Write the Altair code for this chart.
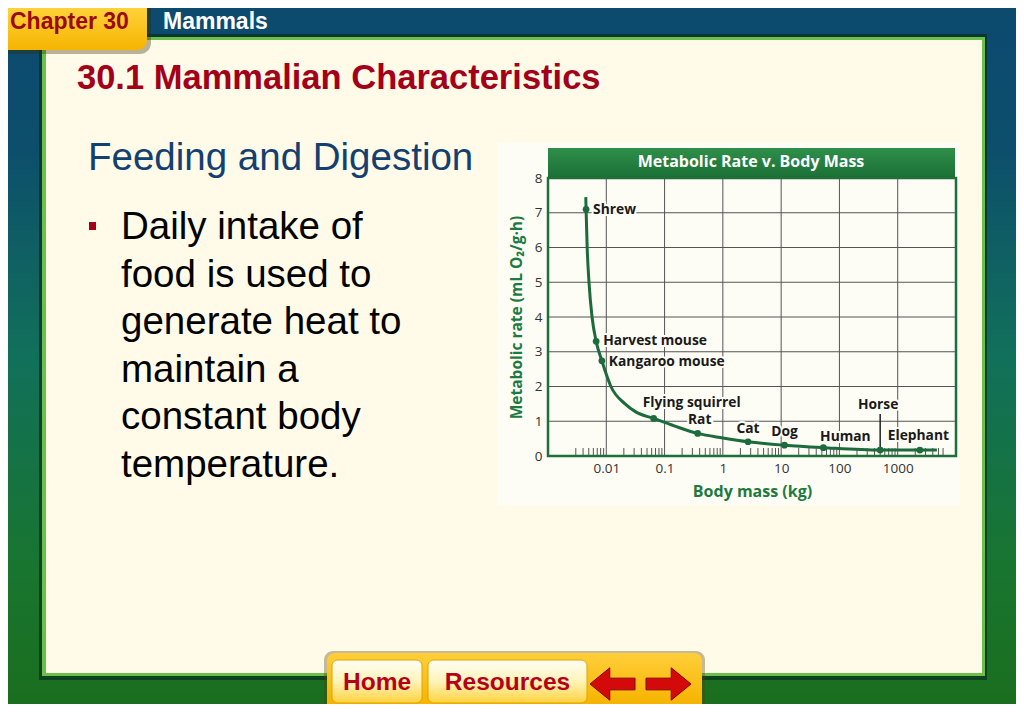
import altair as alt
import pandas as pd

# ---------------- chart data ----------------
animals = ["Shrew", "Harvest mouse", "Kangaroo mouse", "Flying squirrel", "Rat",
           "Cat", "Dog", "Human", "Horse", "Elephant"]
mass_kg = [0.0045, 0.0067, 0.0084, 0.065, 0.37, 2.7, 11.4, 53, 500, 2400]
rate = [7.1, 3.3, 2.74, 1.08, 0.65, 0.41, 0.31, 0.24, 0.17, 0.17]

curve_mass = [0.00445, 0.0045, 0.0047, 0.00505, 0.0057, 0.0067, 0.0084, 0.012,
              0.021, 0.032, 0.065, 0.15, 0.37, 1.0, 2.7, 11.4, 53, 500, 2400, 4700]
curve_rate = [7.45, 7.1, 6.0, 5.0, 4.0, 3.3, 2.74, 2.0,
              1.5, 1.27, 1.08, 0.86, 0.65, 0.52, 0.41, 0.31, 0.24, 0.17, 0.17, 0.17]

x_tick_values = [0.01, 0.1, 1, 10, 100, 1000]
y_tick_values = [0, 1, 2, 3, 4, 5, 6, 7, 8]
y_grid_values = [1, 2, 3, 4, 5, 6, 7]
minor_tick_values = ([m * 0.001 for m in range(3, 10)] +
                     [m * d for d in (0.01, 0.1, 1, 10, 100) for m in range(2, 10)] +
                     [m * 1000 for m in range(2, 7)])

horse_leader_top = 1.21

# ---------------- label styling (offsets in px) ----------------
label_style = {
    "Shrew": (7, 4.7, "left"),
    "Harvest mouse": (7, 3.7, "left"),
    "Kangaroo mouse": (7, 5, "left"),
    "Flying squirrel": (38, -11.8, "center"),
    "Rat": (2, -9, "center"),
    "Cat": (0, -8.5, "center"),
    "Dog": (0, -9, "center"),
    "Human": (22, -7, "center"),
    "Horse": (-2, -40.7, "center"),
    "Elephant": (-1.5, -10, "center"),
}

# ---------------- layout ----------------
OX, OY = 548, 178          # page position of the plot origin
W, H = 408, 278            # plot area
SLIDE_FONT = "Liberation Sans"
CHART_FONT = "Open Sans"
DARK_RED = "#a3001a"
GREEN_T = "#1d7a3f"
CURVE = "#1b6b3c"
GRID = "#555555"
PAGE_R, PAGE_B = 1016, 704

ONE = alt.Data(values=[{"k": 0}])


def grad(stops, vertical=True):
    return alt.Gradient(
        gradient="linear",
        stops=[alt.GradientStop(color=c, offset=o) for o, c in stops],
        x1=0, x2=0 if vertical else 1, y1=0, y2=1 if vertical else 0,
    )


def R(x0, y0, x1, y1, fill, **kw):
    return alt.Chart(ONE).mark_rect(fill=fill, **kw).encode(
        x=alt.value(x0 - OX), x2=alt.value(x1 - OX),
        y=alt.value(y0 - OY), y2=alt.value(y1 - OY))


def T(text, x, y, size, color, weight="normal", font=SLIDE_FONT,
      align="left", baseline="alphabetic"):
    return alt.Chart(ONE).mark_text(
        text=text, font=font, fontSize=size, fontWeight=weight, color=color,
        align=align, baseline=baseline).encode(
        x=alt.value(x - OX), y=alt.value(y - OY))


def P(path, x, y, size, fill, stroke):
    return alt.Chart(ONE).mark_point(
        shape=path, size=size, filled=True, fill=fill, stroke=stroke,
        strokeWidth=1, opacity=1).encode(
        x=alt.value(x - OX), y=alt.value(y - OY))


layers = []
# slide background
layers.append(R(8, 8, PAGE_R, PAGE_B, grad([(0, "#0c4a70"), (0.2, "#0c4e6c"), (0.5, "#11705a"),
                                            (0.8, "#187530"), (1, "#1a6e1e")])))
layers.append(R(8, 8, PAGE_R, 36, "#0c4a6e"))
# content panel
layers.append(R(39, 34, 987, 680, "#0a2e1e", opacity=0.7))
layers.append(R(42, 37, 985, 676, "#6cc04a"))
layers.append(R(46, 40, 982, 673, "#fffbe8"))
# chapter tab
layers.append(R(8, 8, 151, 54, "#3a2a00", opacity=0.35, cornerRadiusBottomRight=11))
layers.append(R(8, 8, 147, 50, grad([(0, "#ffd23a"), (1, "#f6b400")]), cornerRadiusBottomRight=10))
layers.append(T("Chapter 30", 10, 29.3, 23, "#9b0a0a", "bold"))
layers.append(T("Mammals", 163, 29.3, 23, "white", "bold"))
# headings and body text
layers.append(T("30.1 Mammalian Characteristics", 77, 89, 34.5, DARK_RED, "bold"))
layers.append(T("Feeding and Digestion", 88, 170, 38.5, "#12406f"))
layers.append(R(89, 222, 96, 230, DARK_RED))
body_lines = ["Daily intake of", "food is used to", "generate heat to",
              "maintain a", "constant body", "temperature."]
for i, line in enumerate(body_lines):
    layers.append(T(line, 121, 239.2 + 47.5 * i, 38.5, "black"))

# chart panel and header
layers.append(R(497, 143, 960, 505, "#fdfcf5"))
layers.append(R(548, 148, 955, 179, grad([(0, "#2f8f4a"), (1, "#1a6e35")])))
layers.append(T("Metabolic Rate v. Body Mass", 751, 167, 16, "white", "bold",
                font=CHART_FONT, align="center"))

# ---------------- data layers ----------------
X = alt.X("mass:Q",
          scale=alt.Scale(type="log", domain=[0.001, 10000]),
          axis=alt.Axis(values=x_tick_values, format="~g", title="Body mass (kg)",
                        grid=False, ticks=False, domain=False,
                        labelFont=CHART_FONT, labelFontSize=13.5, labelColor="#333333",
                        labelPadding=5, titleFont=CHART_FONT, titleFontSize=16,
                        titleFontWeight="bold", titleColor=GREEN_T, titlePadding=9,
                        zindex=1))
Y = alt.Y("rate:Q",
          scale=alt.Scale(domain=[0, 8]),
          axis=alt.Axis(values=y_tick_values, title="Metabolic rate (mL O\u2082/g\u00b7h)",
                        grid=False, ticks=False, domain=False,
                        labelFont=CHART_FONT, labelFontSize=13.5, labelColor="#333333",
                        labelPadding=6, titleFont=CHART_FONT, titleFontSize=15.5,
                        titleFontWeight="bold", titleColor=GREEN_T, titlePadding=10,
                        zindex=1))

xgrid = pd.DataFrame({"mass": x_tick_values})
ygrid = pd.DataFrame({"rate": y_grid_values})
minor = pd.DataFrame({"mass": minor_tick_values})
pts = pd.DataFrame({"animal": animals, "mass": mass_kg, "rate": rate})
curve = pd.DataFrame({"mass": curve_mass, "rate": curve_rate})

layers.append(alt.Chart(xgrid).mark_rule(color=GRID, strokeWidth=1).encode(
    x=X, y=alt.value(0), y2=alt.value(H)))
layers.append(alt.Chart(ygrid).mark_rule(color=GRID, strokeWidth=1).encode(
    y=Y, x=alt.value(0), x2=alt.value(W)))
layers.append(alt.Chart(minor).mark_rule(color=GRID, strokeWidth=1).encode(
    x=X, y=alt.value(H), y2=alt.value(H - 8)))
# plot frame
layers.append(alt.Chart(ONE).mark_rect(fill="transparent", stroke="#1f6f3a", strokeWidth=2.5).encode(
    x=alt.value(0), x2=alt.value(W), y=alt.value(0), y2=alt.value(H)))

# horse leader line
layers.append(alt.Chart(pts).transform_filter(alt.datum.animal == "Horse").transform_calculate(
    top=str(horse_leader_top)).mark_rule(color="#222222", strokeWidth=1.5).encode(
    x=X, y=Y, y2="top:Q"))

layers.append(alt.Chart(curve).mark_line(color=CURVE, strokeWidth=3, interpolate="monotone").encode(
    x=X, y=Y))
layers.append(alt.Chart(pts).mark_circle(color=CURVE, size=45, opacity=1).encode(x=X, y=Y))

for name in animals:
    dx, dy, align = label_style[name]
    base = alt.Chart(pts).transform_filter(alt.datum.animal == name)
    layers.append(base.mark_text(font=CHART_FONT, fontSize=13.8, fontWeight="bold",
                                 align=align, baseline="alphabetic", dx=dx, dy=dy,
                                 color="#fdfcf5", stroke="#fdfcf5", strokeWidth=4).encode(
        x=X, y=Y, text="animal:N"))
    layers.append(base.mark_text(font=CHART_FONT, fontSize=13.8, fontWeight="bold",
                                 align=align, baseline="alphabetic", dx=dx, dy=dy,
                                 color="#1a1a1a").encode(
        x=X, y=Y, text="animal:N"))

# ---------------- bottom navigation bar ----------------
layers.append(R(324, 651, 705, PAGE_B, "#5a4000", opacity=0.35, cornerRadiusTopLeft=9, cornerRadiusTopRight=9))
layers.append(R(327, 653, 702, PAGE_B, grad([(0, "#ffcf3a"), (1, "#f6b300")]),
                cornerRadiusTopLeft=8, cornerRadiusTopRight=8))
btn_fill = grad([(0, "#fffef6"), (0.5, "#fff4b8"), (1, "#ffd23e")])
layers.append(R(332, 660, 422, 703, btn_fill, stroke="#e2a400", strokeWidth=1, cornerRadius=6))
layers.append(R(428, 660, 587, 703, btn_fill, stroke="#e2a400", strokeWidth=1, cornerRadius=6))
layers.append(T("Home", 377, 690, 24.5, "#b5001a", "bold", align="center"))
layers.append(T("Resources", 507.5, 690, 24.5, "#b5001a", "bold", align="center"))
left_arrow = "M-1,0 L-0.12,-0.72 L-0.12,-0.26 L1,-0.26 L1,0.26 L-0.12,0.26 L-0.12,0.72 Z"
right_arrow = "M1,0 L0.12,-0.72 L0.12,-0.26 L-1,-0.26 L-1,0.26 L0.12,0.26 L0.12,0.72 Z"
layers.append(P(left_arrow, 612.5, 684, 2025, "#d40a0a", "#8a0000"))
layers.append(P(right_arrow, 668.5, 684, 2025, "#d40a0a", "#8a0000"))

chart = alt.layer(*layers).properties(width=W, height=H, padding=0).configure_view(
    strokeWidth=0, fill=None)

chart.save("out.html", embed_options={"renderer": "svg", "actions": False})
